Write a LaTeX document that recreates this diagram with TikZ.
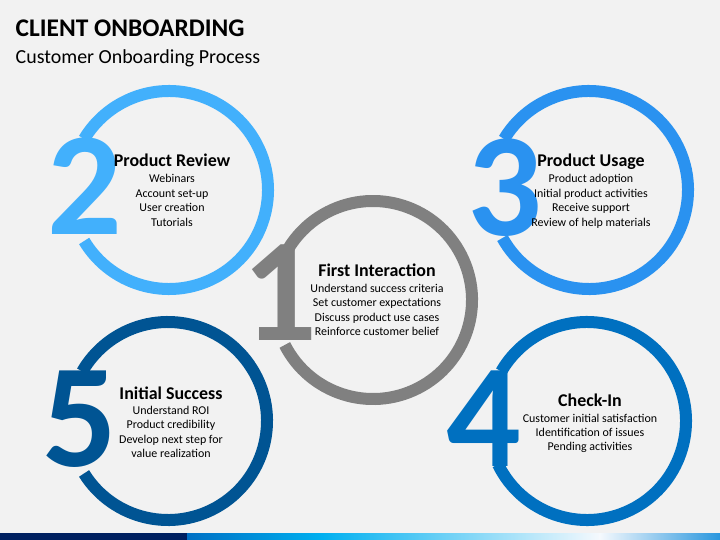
\documentclass[tikz,border=0pt]{standalone}
\usepackage{fontspec}
\setmainfont{Carlito}
\usetikzlibrary{calc}
\definecolor{bg}{RGB}{242,242,242}
\definecolor{cTwo}{RGB}{66,176,252}
\definecolor{cThree}{RGB}{42,146,240}
\definecolor{cOne}{RGB}{128,128,128}
\definecolor{cFive}{RGB}{0,84,147}
\definecolor{cFour}{RGB}{0,112,192}
\definecolor{navy}{RGB}{0,32,96}
\definecolor{barA}{RGB}{0,112,196}
\definecolor{barB}{RGB}{0,176,240}
\definecolor{barC}{RGB}{245,249,253}
\definecolor{barD}{RGB}{40,150,222}
\tikzset{
  ringline/.style={line width=12bp},
  bignum/.style={font=\fontsize{148}{148}\selectfont\bfseries, inner sep=0, anchor=base},
  head/.style={font=\fontsize{18}{20}\selectfont\bfseries, inner sep=0, anchor=base},
  item/.style={font=\fontsize{12}{14}\selectfont, inner sep=0, anchor=base},
}
% ring: centre coordinate, colour, start angle, end angle (canvas degrees)
\newcommand{\ringarc}[4]{%
  \draw[ringline, draw=#2] ($(#1)+(#3:99bp)$) arc[start angle=#3, end angle=#4, radius=99bp];
}
\begin{document}
\begin{tikzpicture}[x=1bp,y=-1bp]
\fill[bg] (0,0) rectangle (720,540);
\useasboundingbox (0,0) rectangle (720,540);

% title
\node[anchor=base west, inner sep=0, font=\fontsize{25.5}{30}\selectfont\bfseries] (title) at (15.5,36.5) {CLIENT ONBOARDING};
\node[anchor=base west, inner sep=0, font=\fontsize{20}{24}\selectfont] (subtitle) at (15.5,63.5) {Customer Onboarding Process};

% ring centres
\coordinate (c2) at (169,190);
\coordinate (c3) at (589,190);
\coordinate (c1) at (373,300);
\coordinate (c5) at (168,421);
\coordinate (c4) at (587,421);

% rings (open where the digit stands)
\ringarc{c2}{cTwo}{211}{509}
\ringarc{c3}{cThree}{209}{509}
\ringarc{c1}{cOne}{207}{510}
\ringarc{c5}{cFive}{212}{510}
\ringarc{c4}{cFour}{206}{510}

% digits
\node[bignum, text=cTwo]   (d2) at (85,235) {2};
\node[bignum, text=cThree] (d3) at (505,236) {3};
\node[bignum, text=cOne]   (d1) at (280,340) {1};
\node[bignum, text=cFive]  (d5) at (80,466) {5};
\node[bignum, text=cFour]  (d4) at (484,466) {4};

% texts
\node[head] (h2) at (172,167) {Product Review};
\foreach \t [count=\i] in {Webinars, Account set-up, User creation, Tutorials}
  \node[item] (t2-\i) at (172,{183+14.4*(\i-1)}) {\t};

\node[head] (h3) at (591,167) {Product Usage};
\foreach \t [count=\i] in {Product adoption, Initial product activities, Receive support, Review of help materials}
  \node[item] (t3-\i) at (591,{183+14.4*(\i-1)}) {\t};

\node[head] (h1) at (377,277) {First Interaction};
\foreach \t [count=\i] in {Understand success criteria, Set customer expectations, Discuss product use cases, Reinforce customer belief}
  \node[item] (t1-\i) at (377,{292.5+14.4*(\i-1)}) {\t};

\node[head] (h5) at (171,399) {Initial Success};
\foreach \t [count=\i] in {Understand ROI, Product credibility, Develop next step for, value realization}
  \node[item] (t5-\i) at (171,{414.5+14.4*(\i-1)}) {\t};

\node[head] (h4) at (590,406) {Check-In};
\foreach \t [count=\i] in {Customer initial satisfaction, Identification of issues, Pending activities}
  \node[item] (t4-\i) at (590,{422+14.4*(\i-1)}) {\t};

% bottom bar
\fill[navy] (0,533) rectangle (187,540);
\shade[left color=barA, right color=barB] (187,533) rectangle (322,540);
\shade[left color=barB, right color=barC] (321.5,533) rectangle (600,540);
\shade[left color=barC, right color=barD] (599.5,533) rectangle (720,540);
\end{tikzpicture}
\end{document}
